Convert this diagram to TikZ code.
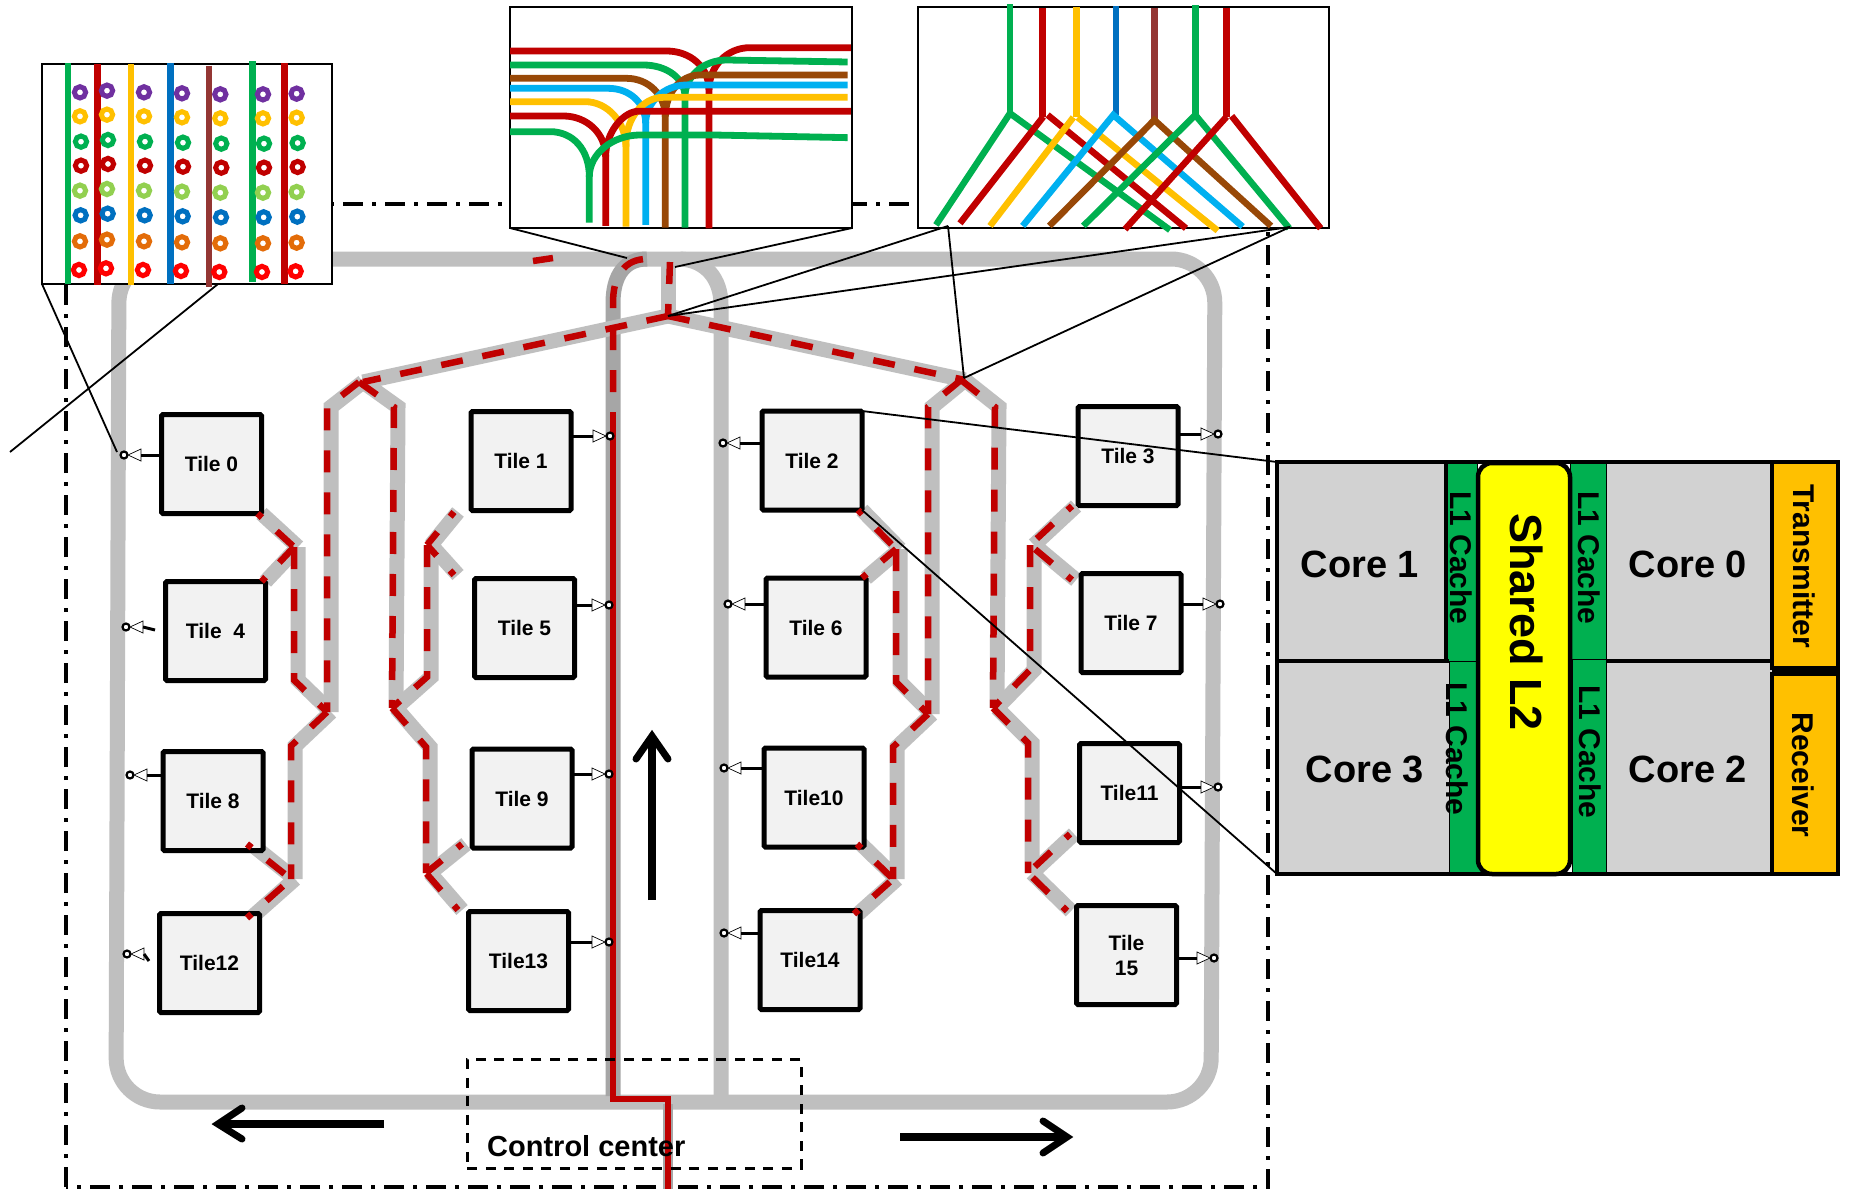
\documentclass[tikz,border=0pt]{standalone}
\usepackage{fontspec}
\setmainfont{Liberation Sans}
\usetikzlibrary{arrows.meta,backgrounds}
\definecolor{railgray}{HTML}{BFBFBF}
\definecolor{raildark}{HTML}{A6A6A6}
\definecolor{rred}{HTML}{C00000}
\definecolor{rgreen}{HTML}{00B050}
\definecolor{ryellow}{HTML}{FFC000}
\definecolor{rblue}{HTML}{0070C0}
\definecolor{rcyan}{HTML}{00B0F0}
\definecolor{rbrown}{HTML}{984807}
\definecolor{rmaroon}{HTML}{943634}
\definecolor{rpurple}{HTML}{7030A0}
\definecolor{rlime}{HTML}{92D050}
\definecolor{rorange}{HTML}{E36C09}
\definecolor{tilefill}{HTML}{F2F2F2}
\definecolor{corefill}{HTML}{D2D2D2}
\definecolor{pureyellow}{HTML}{FFFF00}
\definecolor{purered}{HTML}{FF0000}
\tikzset{
 rail/.style={draw=railgray,line width=15pt},
 darkrail/.style={draw=raildark,line width=15pt},
 redsolid/.style={draw=rred,line width=6.5pt},
 reddash/.style={draw=rred,line width=6.5pt,dash pattern=on 22pt off 20pt},
 tilebox/.style={draw=black,line width=5pt,fill=tilefill,rounded corners=1.5pt,minimum width=100pt,minimum height=99pt,inner sep=0pt,outer sep=0pt,align=center,font=\fontsize{21}{25}\selectfont\bfseries},
 pring/.style={circle,draw=black,fill=white,line width=2.2pt,minimum size=7pt,inner sep=0pt,outer sep=0pt},
 ptri/.style={draw=black,line width=.7pt,fill=white},
 wire/.style={draw=black,line width=3pt},
 leader/.style={draw=black,line width=1.8pt},
 frame/.style={draw=black,line width=3.2pt,dash pattern=on 20pt off 9pt on 4pt off 9pt},
 insetbox/.style={draw=black,line width=2.6pt,fill=white,minimum width=#1,inner sep=0pt,outer sep=0pt,anchor=north west},
 bigshaft/.style={draw=black,line width=7.5pt},
 bighead/.style={draw=black,line width=7pt,line cap=round,miter limit=10},
 coreblock/.style={fill=corefill},
 cacheblock/.style={fill=rgreen,draw=black,line width=1pt},
 radioblock/.style={fill=ryellow,draw=black,line width=4.5pt},
 biglabel/.style={font=\fontsize{38}{40}\selectfont\bfseries,inner sep=0pt},
 cachelabel/.style={font=\fontsize{30}{32}\selectfont\bfseries,rotate=-90,inner sep=0pt},
 radiolabel/.style={font=\fontsize{30}{32}\selectfont\bfseries,rotate=-90,inner sep=0pt},
}
% port: ring, triangle pointing at the ring, wire back to the tile
\newcommand\myport[5]{%
 \node[pring] (r#1) at (#2,#3) {};
 \coordinate (b#1) at (#2+#4*17,#3);
 \draw[ptri] (#2+#4*4,#3) -- (#2+#4*17,#3-6) -- (#2+#4*17,#3+6) -- cycle;
 \ifx\relax#5\relax\else\draw[wire] (t#1.#5 |- b#1) -- (b#1);\fi
}
\newcommand\AllRails{%
 \rc{peak}{hL}\rc{peak}{hR}
 \rl{hL}{LA,LAb}\rl{hL}{LB,LBb}
 \rl{hR}{RA,RAb}\rl{hR}{RB,RBb}
 % left column, outer
 \arm{t0.south east}{c1}\arm{t4.north east}{c1}
 \rl{c1}{v1,LAb}
 \rl{LAb}{v2,c2}
 \arm{a8}{c2}\arm{a12}{c2}
 % left column, inner
 \arm{a1}{c3}\arm{a5}{c3}
 \rl{c3}{v3,LBb}
 \rl{LBb}{v4,c4}
 \arm{a9}{c4}\arm{a13}{c4}
 % right column, outer
 \arm{t2.south east}{c5}\arm{t6.north east}{c5}
 \rl{c5}{v5,RAb}
 \rl{RAb}{v6,c6}
 \arm{a10}{c6}\arm{a14}{c6}
 % right column, inner
 \arm{a3}{c7}\arm{a7}{c7}
 \rl{c7}{v7,RBb}
 \rl{RBb}{v8,c8}
 \arm{a11}{c8}\arm{a15}{c8}
}
\begin{document}
\begin{tikzpicture}[x=1pt,y=-1pt]
\useasboundingbox (0,0) rectangle (1850,1189);
% tiles
\foreach \n/\x/\y/\t in {0/211.5/464/{Tile 0},4/215.5/631/{Tile\ \ 4},8/213/801/{Tile 8},12/209.5/963/{Tile12},
 1/521/461/{Tile 1},5/524.5/628/{Tile 5},9/522/798.5/{Tile 9},13/518.5/961/{Tile13},
 2/812/460.5/{Tile 2},6/816/627.5/{Tile 6},10/814/797.5/{Tile10},14/810/960/{Tile14},
 3/1128/456/{Tile 3},7/1131/623/{Tile 7},11/1129.5/793/{Tile11},15/1126.5/955/{Tile\\15}}
 {\node[tilebox] (t\n) at (\x,\y) {\t};}
% junction coordinates
\coordinate (peak) at (668,316);
\coordinate (hL) at (363,382); \coordinate (hR) at (965,380);
\coordinate (LA) at (331,407); \coordinate (LB) at (398,407);
\coordinate (RA) at (932,407); \coordinate (RB) at (999,407);
\coordinate (LAb) at (331,712); \coordinate (LBb) at (396,708);
\coordinate (RAb) at (932,714); \coordinate (RBb) at (997,708);
\coordinate (c1) at (298,547); \coordinate (v1) at (298,680);
\coordinate (v2) at (295,746); \coordinate (c2) at (295,879);
\coordinate (a8) at (251,844); \coordinate (a12) at (251,918);
\coordinate (c3) at (431,545); \coordinate (v3) at (431,677);
\coordinate (v4) at (430,747); \coordinate (c4) at (430,873);
\coordinate (a1) at (458,512); \coordinate (a5) at (458,575);
\coordinate (a9) at (466,844); \coordinate (a13) at (462,910);
\coordinate (c5) at (900,549); \coordinate (v5) at (900,682);
\coordinate (v6) at (897,747); \coordinate (c6) at (897,879);
\coordinate (a10) at (861,844); \coordinate (a14) at (858,914);
\coordinate (c7) at (1034,545); \coordinate (v7) at (1034,670);
\coordinate (v8) at (1032,743); \coordinate (c8) at (1032,873);
\coordinate (a3) at (1076,506); \coordinate (a7) at (1076,580);
\coordinate (a11) at (1074,834); \coordinate (a15) at (1071,911);
\coordinate (rTL) at (119,259); \coordinate (rTR) at (1215,259);
\coordinate (rBR) at (1211,1102); \coordinate (rBL) at (116,1102);
\coordinate (in1) at (613,303); \coordinate (in1t) at (647,259);
\coordinate (in1b) at (613,1096); \coordinate (in2) at (721,305);
\coordinate (in2t) at (680,259); \coordinate (in2b) at (721,1098);
\coordinate (stubT) at (668,259); \coordinate (redTop) at (613,392);
\coordinate (redMid) at (613,412); \coordinate (redKneeA) at (613,1099);
\coordinate (redKneeB) at (668,1099); \coordinate (redEnd) at (668,1189);
\coordinate (grayStub) at (668,1104);
\coordinate (dashA) at (533,261); \coordinate (dashB) at (553,258);
% frame and gray rails sit under everything
\begin{pgfonlayer}{background}
 \fill[white] (0,0) rectangle (1850,1189);
 \draw[frame] (66,1187) -- (66,204) -- (1268,204) -- (1268,1187) -- cycle;
 \draw[rail,rounded corners=44pt] (rTL) -- (rTR) -- (rBR) -- (rBL) -- cycle;
 \draw[rail] (stubT) -- (peak);
 \draw[rail] (in2b) -- (in2) .. controls (721,278) and (705,260) .. (in2t);
 \draw[darkrail] (in1b) -- (in1) .. controls (613,275) and (625,259) .. (in1t);
 \draw[draw=raildark,line width=10pt] (grayStub) -- (redEnd);
 \newcommand\rl[2]{\draw[rail] (#1) \foreach \n in {#2}{-- (\n)};}
 \newcommand\rc[2]{\draw[rail] (#1) -- (#2);}
 \newcommand\arm[2]{\draw[rail] (#1) -- (#2);}
 \AllRails
\end{pgfonlayer}
% red traffic on the rails
\newcommand\rl[2]{\draw[reddash] ([xshift=-4pt]#1) \foreach \n in {#2}{-- ([xshift=-4pt]\n)};}
\newcommand\rc[2]{\draw[reddash] (#1) -- (#2);}
\newcommand\arm[2]{\draw[reddash,dash phase=16pt] ([xshift=-4pt]#1) -- ([xshift=-4pt]#2);}
\AllRails
\draw[reddash] (redTop) -- (in1) .. controls (613,275) and (625,259) .. (in1t);
\draw[reddash] (stubT) ++(2,3) -- (peak);
\draw[redsolid] (dashA) -- (dashB);
\draw[redsolid] (redMid) -- (redKneeA) -- (redKneeB) -- (redEnd);
% ports
\myport{0}{124}{455}{1}{west}
\myport{4}{126}{627}{1}{}
\myport{8}{130}{775}{1}{west}
\myport{12}{127}{954}{1}{}
\myport{1}{610}{436}{-1}{east}
\myport{5}{609}{605}{-1}{east}
\myport{9}{609}{774}{-1}{east}
\myport{13}{609}{942}{-1}{east}
\myport{2}{723}{443}{1}{west}
\myport{6}{728}{604}{1}{west}
\myport{10}{724}{768}{1}{west}
\myport{14}{724}{933}{1}{west}
\myport{3}{1218}{434}{-1}{east}
\myport{7}{1220}{604}{-1}{east}
\myport{11}{1218}{787}{-1}{east}
\myport{15}{1214}{958}{-1}{east}
\coordinate (s4) at (155,630); \coordinate (s12) at (149,961);
\draw[wire] (b4) -- (s4);
\draw[wire] (b12) -- (s12);
% control centre
\node[draw=black,line width=2.6pt,dash pattern=on 10pt off 8.5pt,minimum width=334pt,minimum height=109pt,inner sep=0pt,anchor=north west] (ctrl) at (466,1058) {};
\node[inner sep=0pt,anchor=west,font=\fontsize{29}{31}\selectfont\bfseries] (ctrltext) at (487,1146) {Control center};
% direction arrows
\coordinate (upA) at (652,900); \coordinate (upB) at (652,736);
\coordinate (lfA) at (384,1124); \coordinate (lfB) at (218,1124);
\coordinate (rtA) at (900,1137); \coordinate (rtB) at (1067,1137);
\coordinate (up1) at (636,759); \coordinate (up2) at (668,759);
\coordinate (lf1) at (242,1108); \coordinate (lf2) at (242,1139);
\coordinate (rt1) at (1043,1121); \coordinate (rt2) at (1043,1153);
\draw[bigshaft] (upA) -- (upB);
\draw[bigshaft] (lfA) -- (lfB);
\draw[bigshaft] (rtA) -- (rtB);
\draw[bighead] (up1) -- (upB) -- (up2);
\draw[bighead] (lf1) -- (lfB) -- (lf2);
\draw[bighead] (rt1) -- (rtB) -- (rt2);
% inset 1: waveguides and rings
\node[insetbox=290pt,minimum height=220pt] (in A) at (42,64) {};
\begin{scope}[shift={(30,55)},x=.3333pt,y=-.3333pt]
 \foreach \c/\x/\a/\b/\w in {rgreen/114/25/688/6,rred/202/28/690/6.6,ryellow/303/28/690/6,rblue/421/25/688/6.6,rmaroon/537/32/695/6,rgreen/667/18/680/7,rred/763/25/688/6.6}
  {\draw[line width=\w pt,draw=\c] (\x,\a) -- (\x,\b);}
 \foreach \bx/\by in {150/112,231/107,342/112,456/115,571/118,699/118,800/116}
  \foreach \cc/\dx/\dy in {rpurple/0/0,ryellow/0/72,rgreen/3/148,rred/3/220,rlime/0/295,rblue/2/369,rorange/0/447,purered/-3/533}
   {\draw[draw=\cc,line width=5pt] (\bx+\dx,\by+\dy) circle[radius=17];}
\end{scope}
% inset 2: switch
\node[insetbox=342pt,minimum height=221pt] (in B) at (510,7) {};
\begin{scope}[shift={(500,0)},x=.3333pt,y=-.3333pt,line width=6.8pt]
 \draw[rred] (1053,143) -- (750,143) .. controls (680,143) and (627,200) .. (627,270) -- (627,685);
 \draw[rred] (30,153) -- (500,153) .. controls (570,153) and (627,200) .. (627,270);
 \draw[rgreen] (1043,186) -- (680,180) .. controls (610,180) and (555,230) .. (555,290) -- (555,683);
 \draw[rgreen] (30,195) -- (430,195) .. controls (500,195) and (555,235) .. (555,290);
 \draw[rbrown] (1043,225) -- (600,225) .. controls (540,225) and (496,280) .. (496,350) -- (496,683);
 \draw[rbrown] (30,235) -- (380,235) .. controls (445,235) and (496,285) .. (496,350);
 \draw[rcyan] (1043,255) -- (560,255) .. controls (490,255) and (437,310) .. (437,370) -- (437,675);
 \draw[rcyan] (30,265) -- (325,265) .. controls (390,265) and (437,310) .. (437,370);
 \draw[ryellow] (1043,292) -- (490,292) .. controls (425,292) and (378,360) .. (378,430) -- (378,680);
 \draw[ryellow] (30,305) -- (255,305) .. controls (325,305) and (378,370) .. (378,440);
 \draw[rred] (1053,334) -- (410,334) .. controls (365,340) and (317,400) .. (317,470) -- (317,678);
 \draw[rred] (30,348) -- (190,348) .. controls (260,348) and (317,400) .. (317,470);
 \draw[rgreen] (1043,413) -- (640,405) -- (420,405) .. controls (340,405) and (268,460) .. (268,530) -- (268,668);
 \draw[rgreen] (30,395) -- (150,395) .. controls (220,395) and (268,450) .. (268,530);
\end{scope}
% inset 3: splitters
\node[insetbox=411pt,minimum height=221pt] (in C) at (918,7) {};
\begin{scope}[shift={(910,0)},x=.3333pt,y=-.3333pt,line width=6.5pt]
 \draw[rgreen] (300,12) -- (300,340);
 \draw[rred] (397,23) -- (397,350);
 \draw[ryellow] (499,20) -- (499,352);
 \draw[rblue] (618,18) -- (618,345);
 \draw[rmaroon] (733,25) -- (733,360);
 \draw[rgreen] (856,15) -- (856,345);
 \draw[rred] (950,24) -- (950,350);
 \draw[rgreen] (78,675) -- (300,340) -- (780,690);
 \draw[rred] (150,670) -- (400,350);
 \draw[rred] (413,345) -- (828,685);
 \draw[ryellow] (240,678) -- (490,352);
 \draw[ryellow] (503,352) -- (923,692);
 \draw[rcyan] (338,678) -- (610,345) -- (998,680);
 \draw[rbrown] (418,678) -- (733,360) -- (1083,678);
 \draw[rgreen] (520,678) -- (856,345) -- (1138,685);
 \draw[rred] (645,688) -- (950,350);
 \draw[rred] (965,348) -- (1232,685);
\end{scope}
% detail of one tile
\fill[coreblock] (1277,462) rectangle (1446,661);
\fill[coreblock] (1277,661) rectangle (1449,874);
\fill[coreblock] (1606,462) rectangle (1772,661);
\fill[coreblock] (1606,661) rectangle (1772,874);
\draw[cacheblock] (1447,462) rectangle (1477,661);
\draw[cacheblock] (1449,661) rectangle (1481,874);
\draw[cacheblock] (1570,462) rectangle (1606,659);
\draw[cacheblock] (1572,659) rectangle (1606,874);
\draw[line width=4.5pt] (1277,661) -- (1449,661);
\draw[line width=4.5pt] (1606,661) -- (1772,661);
\draw[line width=4.5pt] (1446,462) -- (1446,661);
\draw[radioblock] (1772,462) rectangle (1838,668);
\draw[radioblock] (1772,674) rectangle (1838,874);
\draw[line width=4.5pt] (1772,671) -- (1838,671);
\node[draw=black,line width=4.5pt,minimum width=561pt,minimum height=412pt,inner sep=0pt,outer sep=0pt,anchor=north west] (detail) at (1277,462) {};
\draw[fill=pureyellow,draw=black,line width=4.5pt,rounded corners=14pt] (1478,463) rectangle (1570,874);
\node[biglabel] (core1) at (1360,564) {Core 1};
\node[biglabel] (core0) at (1688,564) {Core 0};
\node[biglabel] (core3) at (1365,769) {Core 3};
\node[biglabel] (core2) at (1688,769) {Core 2};
\node[font=\fontsize{45}{47}\selectfont\bfseries,rotate=-90,inner sep=0pt] (l2) at (1527,622) {Shared L2};
\node[cachelabel] (l1a) at (1461,558) {L1 Cache};
\node[cachelabel] (l1b) at (1457,749) {L1 Cache};
\node[cachelabel] (l1c) at (1589,558) {L1 Cache};
\node[cachelabel] (l1d) at (1590,752) {L1 Cache};
\node[radiolabel] (tx) at (1804,566) {Transmitter};
\node[radiolabel] (rx) at (1803,775) {Receiver};
% leaders
\coordinate (p1) at (117,452); \coordinate (p2) at (10,452);
\coordinate (p3) at (218,284);
\coordinate (p4) at (627,258); \coordinate (p5) at (675,267);
\coordinate (p6) at (948,226); \coordinate (p7) at (1290,227);
\coordinate (p8) at (964,378);
\draw[leader] (in A.south west) -- (p1);
\draw[leader] (p3) -- (p2);
\draw[leader] (in B.south west) -- (p4);
\draw[leader] (in B.south east) -- (p5);
\draw[leader] (p6) -- (peak);
\draw[leader] (p7) -- (peak);
\draw[leader] (p6) -- (p8);
\draw[leader] (p7) -- (p8);
\draw[leader] (t2.north east) -- (detail.north west);
\draw[leader] (t2.south east) -- (detail.south west);
\end{tikzpicture}
\end{document}
